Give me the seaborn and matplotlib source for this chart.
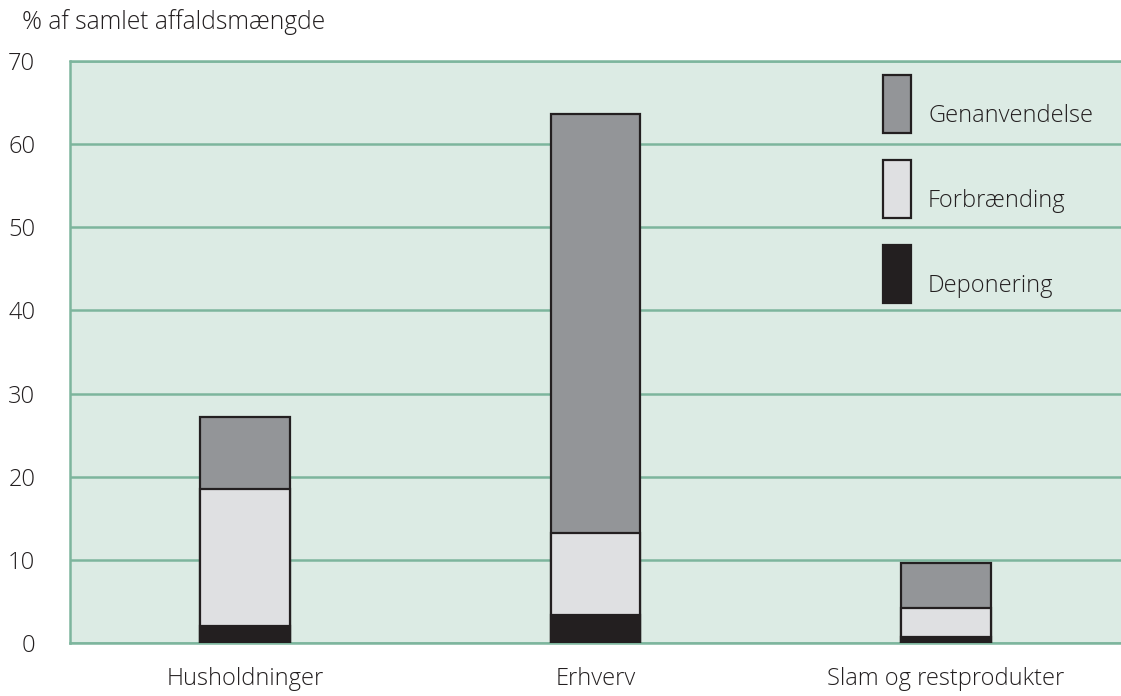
import matplotlib
matplotlib.use("Agg")
import matplotlib.pyplot as plt
import matplotlib.patches as mpatches
import seaborn as sns
import pandas as pd
import numpy as np

categories = ["Husholdninger", "Erhverv", "Slam og restprodukter"]
deponering = [2.0, 3.4, 0.7]
forbraending = [16.5, 9.8, 3.5]
genanvendelse = [8.7, 50.4, 5.4]
series_names = ["Genanvendelse", "Forbrænding", "Deponering"]
yticks = [0, 10, 20, 30, 40, 50, 60, 70]
ylabel = "% af samlet affaldsmængde"

col_gen = "#939598"
col_forb = "#dfe0e2"
col_dep = "#231f20"
edge = "#231f20"
bg = "#dcebe4"
grid = "#7db59d"
fs = 17

sns.set_theme(style="white")
plt.rcParams["font.family"] = ["Open Sans", "DejaVu Sans"]
plt.rcParams["font.weight"] = "light"

df = pd.DataFrame({"cat": categories, "dep": deponering,
                   "forb": forbraending, "gen": genanvendelse})
df["top_forb"] = df["dep"] + df["forb"]
df["top_gen"] = df["top_forb"] + df["gen"]

fig = plt.figure(figsize=(11.21, 6.96), dpi=100)
ax = fig.add_axes([70/1121, 1-643/696, 1-70/1121, (643-61)/696])
ax.set_facecolor(bg)

for col, c in [("top_gen", col_gen), ("top_forb", col_forb), ("dep", col_dep)]:
    sns.barplot(data=df, x="cat", y=col, color=c, saturation=1, width=0.255,
                edgecolor=edge, linewidth=1.6, ax=ax, zorder=3)

ax.set_ylim(0, 70)
ax.set_xlim(-0.5, 2.5)
ax.set_yticks(yticks)
ax.yaxis.grid(True, color=grid, linewidth=1.8, zorder=0)
ax.set_axisbelow(True)
for s in ["top", "right"]:
    ax.spines[s].set_visible(False)
for s in ["left", "bottom"]:
    ax.spines[s].set_color(grid)
    ax.spines[s].set_linewidth(1.8)
ax.tick_params(axis="both", length=0, labelsize=fs, colors="#231f20")
ax.tick_params(axis="y", pad=25)
ax.tick_params(axis="x", pad=17)
ax.set_xlabel("")
ax.set_ylabel("")
ax.axhline(70, color=grid, linewidth=1.8, zorder=1, clip_on=False)

fig.text(22/1121, 1-22/696, ylabel, fontsize=17.7, va="center", ha="left",
         color="#231f20")

em = fs * 100 / 72
hh_px = 58
hh = (hh_px / em - 0.245) / 0.65
handles = [mpatches.Patch(facecolor=c, edgecolor=edge, linewidth=1.6, label=n)
           for c, n in zip([col_gen, col_forb, col_dep], series_names)]
leg = ax.legend(handles=handles, loc="upper left",
                bbox_to_anchor=((883-70)/1051, (643-75)/582),
                frameon=False, fontsize=fs, handlelength=28/em, handleheight=hh,
                labelspacing=27/em, handletextpad=17/em, borderaxespad=0, borderpad=0)
for t in leg.get_texts():
    t.set_color("#231f20")
    t.set_position((0, -11))

fig.savefig("out.png", dpi=100)
